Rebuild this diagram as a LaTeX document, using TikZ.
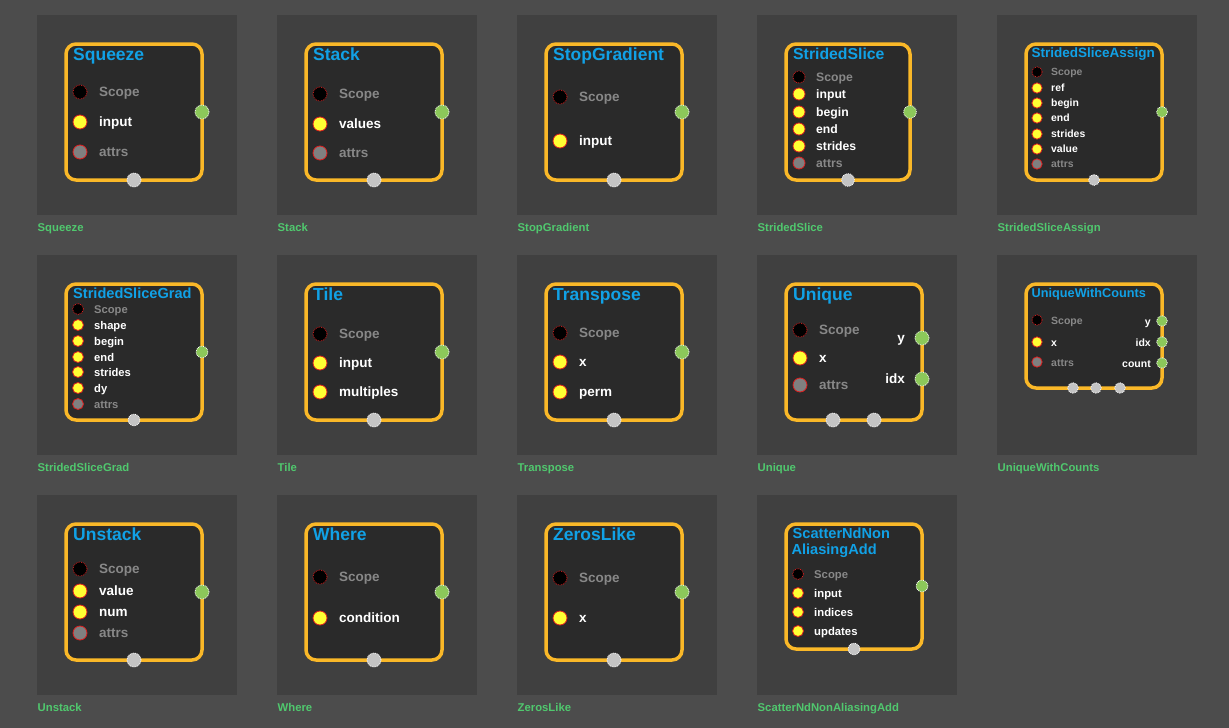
\documentclass[tikz,border=0pt]{standalone}
\usepackage{fontspec}
\setmainfont{Liberation Sans}
\definecolor{bgcol}{RGB}{76,76,76}
\definecolor{tilecol}{RGB}{64,64,64}
\definecolor{boxfill}{RGB}{42,42,42}
\definecolor{boxline}{RGB}{250,184,40}
\definecolor{titleblue}{RGB}{17,161,230}
\definecolor{capgreen}{RGB}{80,200,110}
\definecolor{portgreen}{RGB}{140,200,90}
\definecolor{portgray}{RGB}{196,196,196}
\definecolor{labgray}{RGB}{136,136,136}
\definecolor{dotyellow}{RGB}{255,255,51}
\definecolor{dotred}{RGB}{220,30,30}
\tikzset{
  tilebox/.style={fill=tilecol, draw=none, minimum width=200, minimum height=200, inner sep=0, outer sep=0, anchor=north west},
  nodebox/.style={fill=boxfill, draw=boxline, line width=3.5, rounded corners=10, inner sep=0, outer sep=0, anchor=north west},
  ttl/.style={font=\fontsize{#1}{#1}\selectfont\bfseries, text=titleblue, inner sep=0, anchor=base west},
  capt/.style={font=\fontsize{11.3}{12}\selectfont\bfseries, text=capgreen, inner sep=0, anchor=base west},
  dots/.style={circle, fill=black, draw=dotred, densely dotted, line width=0.8, inner sep=0},
  doti/.style={circle, fill=dotyellow, draw=dotred, line width=0.8, inner sep=0},
  dota/.style={circle, fill=gray, draw=dotred, line width=0.8, inner sep=0},
  labs/.style={font=\fontsize{\fS}{\fS}\selectfont\bfseries, text=labgray, inner sep=0},
  labi/.style={font=\fontsize{\fS}{\fS}\selectfont\bfseries, text=white, inner sep=0},
  laba/.style={font=\fontsize{\fS}{\fS}\selectfont\bfseries, text=labgray, inner sep=0},
  outport/.style={circle, fill=portgreen, draw=white, densely dotted, line width=0.8, inner sep=0, minimum size=#1},
  botport/.style={circle, fill=portgray, draw=white, densely dotted, line width=0.8, inner sep=0, minimum size=#1},
}
\newcommand\prow[4]{%
  \node[dot#3, minimum size=\dS] (#1d) at (\dX,#2) {};
  \node[lab#3, anchor=mid west] (#1t) at (\tX,#2+0.13*\fS) {#4};}
\newcommand\olab[4]{%
  \node[labi, anchor=mid east] (#1) at (#2,#3+0.13*\fS) {#4};}
\begin{document}
\begin{tikzpicture}[x=1pt,y=-1pt]
\path[fill=bgcol] (0,0) rectangle (1229,728);

% ---------- Squeeze
\begin{scope}[shift={(37,15)}]
\def\dX{43}\def\tX{62}\def\dS{14}\def\fS{13.5}
\node[tilebox] (sqtile) at (0,0) {};
\node[nodebox, minimum width=136, minimum height=136] (sqbox) at (29,29) {};
\node[ttl=17.5] (sqtitle) at (36,45) {Squeeze};
\prow{sqscope}{77}{s}{Scope}
\prow{sqinput}{107}{i}{input}
\prow{sqattrs}{137}{a}{attrs}
\node[outport=14] (sqout) at (165,97) {};
\node[botport=14] (sqbot) at (97,165) {};
\node[capt] (sqcap) at (0.5,216.5) {Squeeze};
\end{scope}

% ---------- Stack
\begin{scope}[shift={(277,15)}]
\def\dX{43}\def\tX{62}\def\dS{14}\def\fS{13.5}
\node[tilebox] (sttile) at (0,0) {};
\node[nodebox, minimum width=136, minimum height=136] (stbox) at (29,29) {};
\node[ttl=17.5] (sttitle) at (36,45) {Stack};
\prow{stscope}{79}{s}{Scope}
\prow{stvalues}{109}{i}{values}
\prow{stattrs}{138}{a}{attrs}
\node[outport=14] (stout) at (165,97) {};
\node[botport=14] (stbot) at (97,165) {};
\node[capt] (stcap) at (0.5,216.5) {Stack};
\end{scope}

% ---------- StopGradient
\begin{scope}[shift={(517,15)}]
\def\dX{43}\def\tX{62}\def\dS{14}\def\fS{13.5}
\node[tilebox] (sgtile) at (0,0) {};
\node[nodebox, minimum width=136, minimum height=136] (sgbox) at (29,29) {};
\node[ttl=17.5] (sgtitle) at (36,45) {StopGradient};
\prow{sgscope}{82}{s}{Scope}
\prow{sginput}{126}{i}{input}
\node[outport=14] (sgout) at (165,97) {};
\node[botport=14] (sgbot) at (97,165) {};
\node[capt] (sgcap) at (0.5,216.5) {StopGradient};
\end{scope}

% ---------- StridedSlice
\begin{scope}[shift={(757,15)}]
\def\dX{42}\def\tX{59}\def\dS{12}\def\fS{12.2}
\node[tilebox] (sstile) at (0,0) {};
\node[nodebox, minimum width=124, minimum height=136] (ssbox) at (29,29) {};
\node[ttl=15.8] (sstitle) at (36,44) {StridedSlice};
\prow{ssscope}{62}{s}{Scope}
\prow{ssinput}{79}{i}{input}
\prow{ssbegin}{97}{i}{begin}
\prow{ssend}{114}{i}{end}
\prow{ssstrides}{131}{i}{strides}
\prow{ssattrs}{148}{a}{attrs}
\node[outport=12.7] (ssout) at (153,97) {};
\node[botport=12.7] (ssbot) at (91,165) {};
\node[capt] (sscap) at (0.5,216.5) {StridedSlice};
\end{scope}

% ---------- StridedSliceAssign
\begin{scope}[shift={(997,15)}]
\def\dX{40}\def\tX{54}\def\dS{10.3}\def\fS{10.4}
\node[tilebox] (satile) at (0,0) {};
\node[nodebox, minimum width=136, minimum height=136] (sabox) at (29,29) {};
\node[ttl=13.5] (satitle) at (34.5,42) {StridedSliceAssign};
\prow{sascope}{57}{s}{Scope}
\prow{saref}{73}{i}{ref}
\prow{sabegin}{88}{i}{begin}
\prow{saend}{103}{i}{end}
\prow{sastrides}{119}{i}{strides}
\prow{savalue}{134}{i}{value}
\prow{saattrs}{149}{a}{attrs}
\node[outport=11] (saout) at (165,97) {};
\node[botport=11] (sabot) at (97,165) {};
\node[capt] (sacap) at (0.5,216.5) {StridedSliceAssign};
\end{scope}

% ---------- StridedSliceGrad
\begin{scope}[shift={(37,255)}]
\def\dX{41}\def\tX{57}\def\dS{11}\def\fS{11.2}
\node[tilebox] (grtile) at (0,0) {};
\node[nodebox, minimum width=136, minimum height=136] (grbox) at (29,29) {};
\node[ttl=14.6] (grtitle) at (36,43) {StridedSliceGrad};
\prow{grscope}{54}{s}{Scope}
\prow{grshape}{70}{i}{shape}
\prow{grbegin}{86}{i}{begin}
\prow{grend}{102}{i}{end}
\prow{grstrides}{117}{i}{strides}
\prow{grdy}{133}{i}{dy}
\prow{grattrs}{149}{a}{attrs}
\node[outport=11.7] (grout) at (165,97) {};
\node[botport=11.7] (grbot) at (97,165) {};
\node[capt] (grcap) at (0.5,216.5) {StridedSliceGrad};
\end{scope}

% ---------- Tile
\begin{scope}[shift={(277,255)}]
\def\dX{43}\def\tX{62}\def\dS{14}\def\fS{13.5}
\node[tilebox] (tltile) at (0,0) {};
\node[nodebox, minimum width=136, minimum height=136] (tlbox) at (29,29) {};
\node[ttl=17.5] (tltitle) at (36,45) {Tile};
\prow{tlscope}{79}{s}{Scope}
\prow{tlinput}{108}{i}{input}
\prow{tlmult}{137}{i}{multiples}
\node[outport=14] (tlout) at (165,97) {};
\node[botport=14] (tlbot) at (97,165) {};
\node[capt] (tlcap) at (0.5,216.5) {Tile};
\end{scope}

% ---------- Transpose
\begin{scope}[shift={(517,255)}]
\def\dX{43}\def\tX{62}\def\dS{14}\def\fS{13.5}
\node[tilebox] (tptile) at (0,0) {};
\node[nodebox, minimum width=136, minimum height=136] (tpbox) at (29,29) {};
\node[ttl=17.5] (tptitle) at (36,45) {Transpose};
\prow{tpscope}{78}{s}{Scope}
\prow{tpx}{107}{i}{x}
\prow{tpperm}{137}{i}{perm}
\node[outport=14] (tpout) at (165,97) {};
\node[botport=14] (tpbot) at (97,165) {};
\node[capt] (tpcap) at (0.5,216.5) {Transpose};
\end{scope}

% ---------- Unique
\begin{scope}[shift={(757,255)}]
\def\dX{43}\def\tX{62}\def\dS{14}\def\fS{13.5}
\node[tilebox] (uqtile) at (0,0) {};
\node[nodebox, minimum width=136, minimum height=136] (uqbox) at (29,29) {};
\node[ttl=17.5] (uqtitle) at (36,45) {Unique};
\prow{uqscope}{75}{s}{Scope}
\prow{uqx}{103}{i}{x}
\prow{uqattrs}{130}{a}{attrs}
\node[outport=14] (uqouty) at (165,83) {};
\node[outport=14] (uqoutidx) at (165,124) {};
\olab{uqly}{148}{83}{y}
\olab{uqlidx}{148}{124}{idx}
\node[botport=14] (uqbot1) at (76,165) {};
\node[botport=14] (uqbot2) at (117,165) {};
\node[capt] (uqcap) at (0.5,216.5) {Unique};
\end{scope}

% ---------- UniqueWithCounts
\begin{scope}[shift={(997,255)}]
\def\dX{40}\def\tX{54}\def\dS{10.3}\def\fS{10.5}
\node[tilebox] (uctile) at (0,0) {};
\node[nodebox, minimum width=136, minimum height=104] (ucbox) at (29,29) {};
\node[ttl=12.7] (uctitle) at (34.5,42) {UniqueWithCounts};
\prow{ucscope}{65}{s}{Scope}
\prow{ucx}{87}{i}{x}
\prow{ucattrs}{107}{a}{attrs}
\node[outport=10.7] (ucouty) at (165,66) {};
\node[outport=10.7] (ucoutidx) at (165,87) {};
\node[outport=10.7] (ucoutcnt) at (165,108) {};
\olab{ucly}{154}{66}{y}
\olab{uclidx}{154}{87}{idx}
\olab{uclcnt}{154}{108}{count}
\node[botport=10.7] (ucbot1) at (76,133) {};
\node[botport=10.7] (ucbot2) at (99,133) {};
\node[botport=10.7] (ucbot3) at (123,133) {};
\node[capt] (uccap) at (0.5,216.5) {UniqueWithCounts};
\end{scope}

% ---------- Unstack
\begin{scope}[shift={(37,495)}]
\def\dX{43}\def\tX{62}\def\dS{14}\def\fS{13.5}
\node[tilebox] (ustile) at (0,0) {};
\node[nodebox, minimum width=136, minimum height=136] (usbox) at (29,29) {};
\node[ttl=17.5] (ustitle) at (36,45) {Unstack};
\prow{usscope}{74}{s}{Scope}
\prow{usvalue}{96}{i}{value}
\prow{usnum}{117}{i}{num}
\prow{usattrs}{138}{a}{attrs}
\node[outport=14] (usout) at (165,97) {};
\node[botport=14] (usbot) at (97,165) {};
\node[capt] (uscap) at (0.5,216.5) {Unstack};
\end{scope}

% ---------- Where
\begin{scope}[shift={(277,495)}]
\def\dX{43}\def\tX{62}\def\dS{14}\def\fS{13.5}
\node[tilebox] (whtile) at (0,0) {};
\node[nodebox, minimum width=136, minimum height=136] (whbox) at (29,29) {};
\node[ttl=17.5] (whtitle) at (36,45) {Where};
\prow{whscope}{82}{s}{Scope}
\prow{whcond}{123}{i}{condition}
\node[outport=14] (whout) at (165,97) {};
\node[botport=14] (whbot) at (97,165) {};
\node[capt] (whcap) at (0.5,216.5) {Where};
\end{scope}

% ---------- ZerosLike
\begin{scope}[shift={(517,495)}]
\def\dX{43}\def\tX{62}\def\dS{14}\def\fS{13.5}
\node[tilebox] (zltile) at (0,0) {};
\node[nodebox, minimum width=136, minimum height=136] (zlbox) at (29,29) {};
\node[ttl=17.5] (zltitle) at (36,45) {ZerosLike};
\prow{zlscope}{83}{s}{Scope}
\prow{zlx}{123}{i}{x}
\node[outport=14] (zlout) at (165,97) {};
\node[botport=14] (zlbot) at (97,165) {};
\node[capt] (zlcap) at (0.5,216.5) {ZerosLike};
\end{scope}

% ---------- ScatterNdNonAliasingAdd
\begin{scope}[shift={(757,495)}]
\def\dX{41}\def\tX{57}\def\dS{11}\def\fS{11.3}
\node[tilebox] (sntile) at (0,0) {};
\node[nodebox, minimum width=136, minimum height=125] (snbox) at (29,29) {};
\node[ttl=14.6] (sntitle1) at (35.5,43) {ScatterNdNon};
\node[ttl=14.6] (sntitle2) at (34.3,59) {AliasingAdd};
\prow{snscope}{79}{s}{Scope}
\prow{sninput}{98}{i}{input}
\prow{snind}{117}{i}{indices}
\prow{snupd}{136}{i}{updates}
\node[outport=11.7] (snout) at (165,91) {};
\node[botport=11.7] (snbot) at (97,154) {};
\node[capt] (sncap) at (0.5,216.5) {ScatterNdNonAliasingAdd};
\end{scope}
\end{tikzpicture}
\end{document}
